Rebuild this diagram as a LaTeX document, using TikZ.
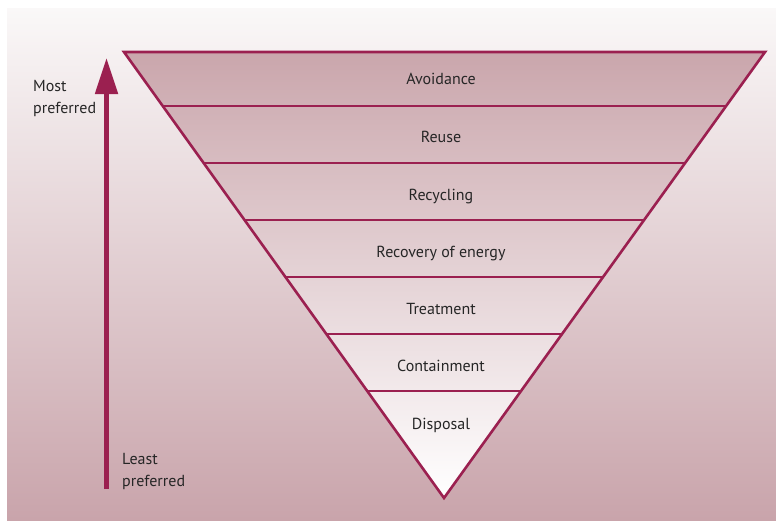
\documentclass[tikz,border=0pt]{standalone}
\usepackage{fontspec}
\setmainfont{PT Sans}
\usepackage{tikz}
\usetikzlibrary{arrows.meta,calc}

\definecolor{rasp}{RGB}{155,32,80}
\definecolor{bgtop}{RGB}{250,248,248}
\definecolor{bgbot}{RGB}{201,164,171}
\definecolor{tritop}{RGB}{202,166,172}

\tikzset{
  level/.style={font=\fontsize{16}{21}\selectfont, text=black!85, anchor=base, inner sep=0pt},
  side/.style={font=\fontsize{16}{21.5}\selectfont, text=black!85, align=left, anchor=base west, inner sep=0pt},
  band/.style={draw=rasp, line width=2.6pt},
}

\begin{document}
\begin{tikzpicture}[x=1pt,y=-1pt]
  \useasboundingbox (0,0) rectangle (776,520);
  \fill[top color=bgtop, bottom color=bgbot] (7,8) rectangle (776,520);

  % the inverted pyramid
  \coordinate (tl) at (124,52);
  \coordinate (tr) at (765,52);
  \coordinate (apex) at (444,498);
  \shade[top color=tritop, bottom color=white] (tl) -- (tr) -- (apex) -- cycle;
  \foreach \y in {106,163,220,277,334,391}
    \draw[band] ($(tl)!{(\y-52)/446}!(apex)$) -- ($(tr)!{(\y-52)/446}!(apex)$);
  \draw[band, line join=miter] (tl) -- (tr) -- (apex) -- cycle;

  \node[level] (avoid)   at (441,84)  {Avoidance};
  \node[level] (reuse)   at (441,142) {Reuse};
  \node[level] (recycle) at (441,200) {Recycling};
  \node[level] (energy)  at (441,257) {Recovery of energy};
  \node[level] (treat)   at (441,314) {Treatment};
  \node[level] (contain) at (441,371) {Containment};
  \node[level] (dispose) at (441,429) {Disposal};

  % preference arrow
  \coordinate (least) at (106.5,489);
  \coordinate (most)  at (106.5,58);
  \draw[rasp, line width=5pt, -{Triangle[length=36pt,width=22pt]}] (least) -- (most);
  \node[side] (mostpref)  at (33,113)  {Most\\preferred};
  \node[side] (leastpref) at (122,486) {Least\\preferred};
\end{tikzpicture}
\end{document}
